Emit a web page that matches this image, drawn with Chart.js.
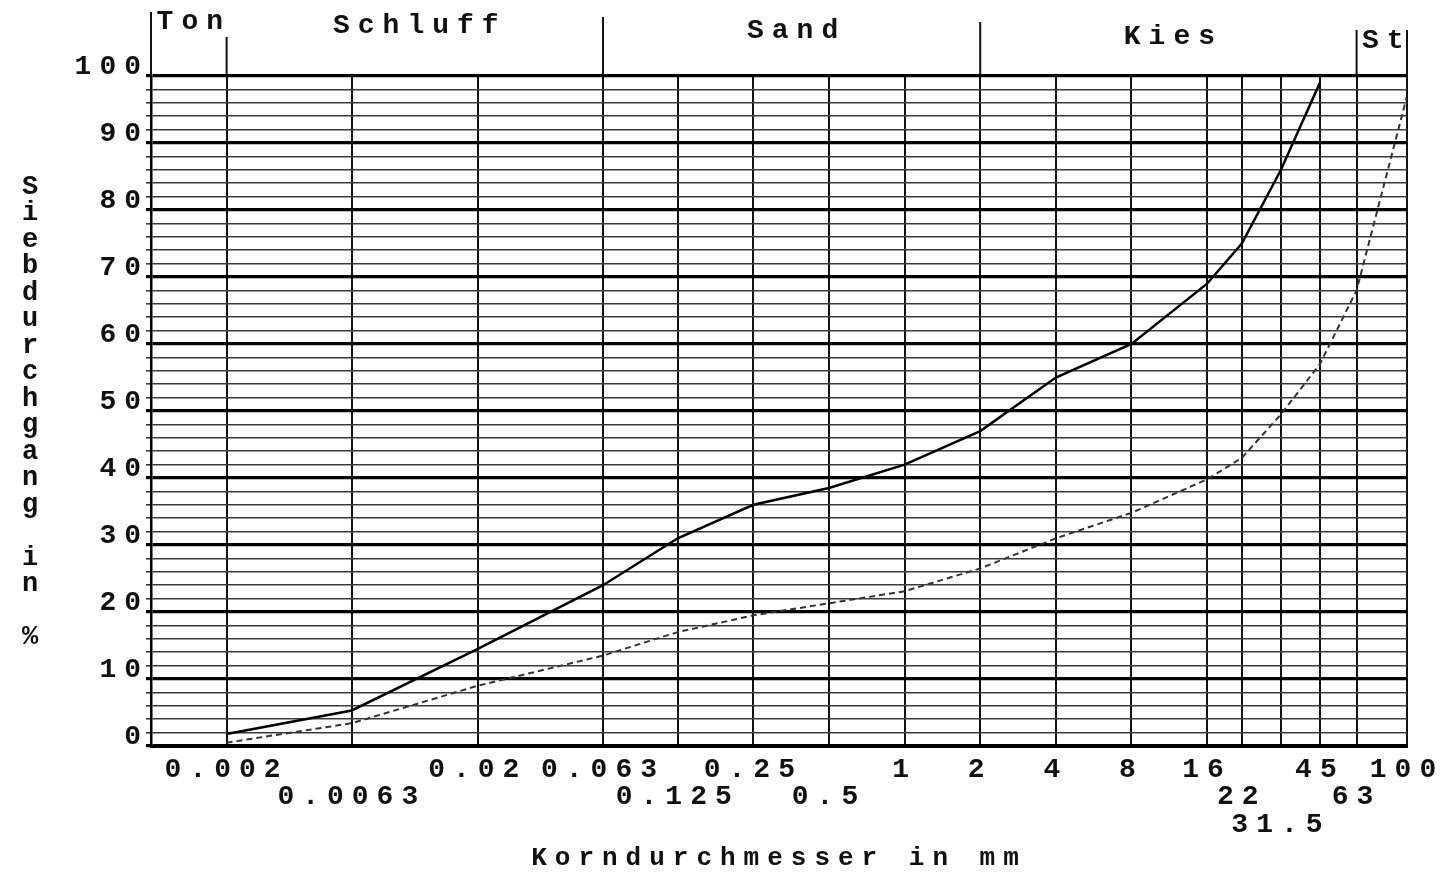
<!DOCTYPE html>
<html>
<head>
<meta charset="utf-8">
<script src="https://cdn.jsdelivr.net/npm/chart.js@4.4.0/dist/chart.umd.min.js"></script>
<style>
  html, body { margin: 0; padding: 0; background: #fff; }
  canvas { display: block; }
</style>
</head>
<body>
<canvas id="sieve" width="1447" height="880"></canvas>
<script>
// Sieblinie, Werte
const sizes = [0.002, 0.0063, 0.02, 0.063, 0.125, 0.25, 0.5, 1, 2, 4, 8, 16, 22, 31.5, 45, 63, 100];
const probe1 = [1.8, 5.3, 14.5, 24, 31, 36, 38.5, 42, 47, 55, 60, 69, 75, 86, 99, null, null];
const probe2 = [0.5, 3.4, 9, 13.5, 17, 19.5, 21.3, 23.1, 26.5, 31, 34.8, 39.8, 43, 49.5, 57, 68, 97];
const sizeLabels = ['0.002', '0.0063', '0.02', '0.063', '0.125', '0.25', '0.5', '1', '2', '4', '8', '16', '22', '31.5', '45', '63', '100'];
const zoneNames = ['Ton', 'Schluff', 'Sand', 'Kies', 'St'];
const zoneBounds = [0.001, 0.002, 0.063, 2, 63, 100];
const yTitle = 'Siebdurchgang in %';
const xTitle = 'Korndurchmesser in mm';

// which text row each size label goes in (staggered like the print)
const labelRow = [0, 1, 0, 0, 1, 0, 1, 0, 0, 0, 0, 0, 1, 2, 0, 1, 0];
const zoneTops = [12, 37, 17, 22, 30, 30];
const zoneLabelY = [22, 26, 31, 37, 41];

const font = { family: "'Liberation Mono', monospace", size: 28, weight: 'bold', lineHeight: 0.98 };
const fontCss = "bold 28px 'Liberation Mono', monospace";

const toPoints = vals => sizes.map((s, i) => ({ x: s, y: vals[i] })).filter(p => p.y !== null);

const paperDeco = {
    id: 'paperDeco',
    beforeDraw(chart) {
        const c = chart.ctx;
        c.save();
        c.fillStyle = '#fff';
        c.fillRect(0, 0, chart.width, chart.height);
        c.restore();
        c.letterSpacing = '8px';
    },
    afterDraw(chart) {
        const { ctx, chartArea } = chart;
        const x = chart.scales.x;
        ctx.save();
        ctx.strokeStyle = '#111';
        ctx.lineWidth = 2;
        zoneBounds.forEach((b, i) => {
            const px = x.getPixelForValue(b);
            ctx.beginPath();
            ctx.moveTo(px, chartArea.top);
            ctx.lineTo(px, zoneTops[i]);
            ctx.stroke();
        });
        ctx.font = fontCss;
        ctx.fillStyle = '#111';
        ctx.textAlign = 'center';
        ctx.textBaseline = 'middle';
        zoneNames.forEach((n, i) => {
            const mid = Math.sqrt(zoneBounds[i] * zoneBounds[i + 1]);
            ctx.fillText(n, x.getPixelForValue(mid) + 5, zoneLabelY[i]);
        });
        ctx.letterSpacing = '0px';
        ctx.font = "bold 27px 'Liberation Mono', monospace";
        [...yTitle].forEach((ch, i) => ctx.fillText(ch, 30, 187 + i * 26.5));
        ctx.restore();
    }
};

new Chart(document.getElementById('sieve'), {
    type: 'line',
    data: {
        datasets: [{
            label: 'Probe 1',
            data: toPoints(probe1),
            borderColor: '#000',
            borderWidth: 2.5,
            pointRadius: 0,
            tension: 0
        }, {
            label: 'Probe 2',
            data: toPoints(probe2),
            borderColor: '#333',
            borderWidth: 2,
            borderDash: [6, 4],
            pointRadius: 0,
            tension: 0
        }]
    },
    options: {
        responsive: false,
        animation: false,
        devicePixelRatio: 1,
        layout: { padding: { top: 76, right: 40, bottom: 0, left: 0 } },
        plugins: { legend: { display: false }, tooltip: { enabled: false } },
        scales: {
            x: {
                type: 'logarithmic',
                min: 0.001,
                max: 100,
                afterBuildTicks: axis => { axis.ticks = sizes.map(v => ({ value: v })); },
                afterFit: axis => { axis.height = 134; },
                ticks: {
                    autoSkip: false,
                    maxRotation: 0,
                    minRotation: 0,
                    padding: 10,
                    color: '#111',
                    font: font,
                    callback: function (value) {
                        const i = sizes.indexOf(value);
                        if (i < 0) return '';
                        const lines = [];
                        for (let r = 0; r < labelRow[i]; r++) lines.push('');
                        lines.push(sizeLabels[i]);
                        return lines;
                    }
                },
                grid: { color: '#111', lineWidth: 2, drawTicks: false },
                border: { display: true, color: '#000', width: 3 },
                title: {
                    display: true,
                    text: xTitle,
                    color: '#111',
                    font: { family: "'Liberation Mono', monospace", size: 26, weight: 'bold' },
                    padding: { top: 0, bottom: 6 }
                }
            },
            y: {
                min: 0,
                max: 100,
                afterFit: axis => { axis.width = 151; },
                ticks: {
                    stepSize: 2,
                    autoSkip: false,
                    padding: -3,
                    labelOffset: -9,
                    color: '#111',
                    font: font,
                    callback: v => (v % 10 === 0 ? String(v) : '')
                },
                grid: {
                    color: ctx => (ctx.tick && ctx.tick.value % 10 === 0 ? '#000' : '#3a3a3a'),
                    lineWidth: ctx => (ctx.tick && ctx.tick.value % 10 === 0 ? 3.2 : 1.6),
                    tickLength: 5
                },
                border: { display: true, color: '#000', width: 2.5 }
            }
        }
    },
    plugins: [paperDeco]
});
</script>
</body>
</html>
